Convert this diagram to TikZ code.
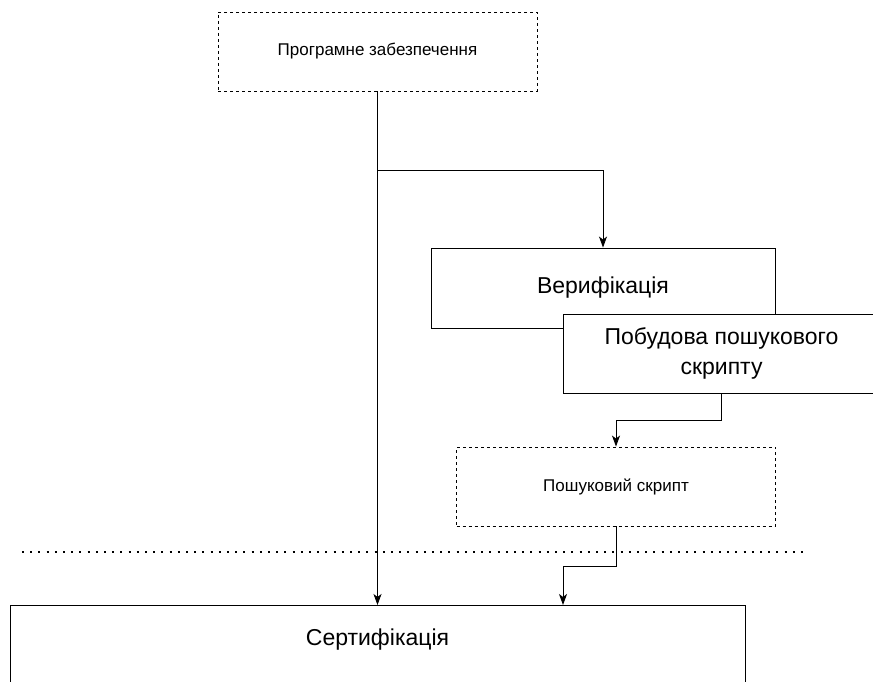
\documentclass[tikz,border=0pt]{standalone}
\usepackage{fontspec}
\setmainfont{Liberation Sans}
\usetikzlibrary{arrows.meta}

\begin{document}
\begin{tikzpicture}[x=1pt,y=-1pt,line width=0.9pt,
    >={Stealth[length=11pt,width=8pt,inset=3pt]},
    dashbox/.style={draw,dash pattern=on 3pt off 3pt,minimum width=319pt,minimum height=79pt,
      font=\fontsize{17}{20}\selectfont},
    solidbox/.style={draw,fill=white,minimum width=317pt,minimum height=79pt,align=center,
      font=\fontsize{23}{30}\selectfont}]
        % Frame
        \useasboundingbox (0,0) rectangle (873,682);
        \clip (0,0) rectangle (873,682);

        % Boxes
        \node[dashbox] (soft) at (377.5,51.5) {Програмне забезпечення};
        \node[solidbox,minimum width=344pt,minimum height=80pt] (verif) at (603,288) {Верифікація};
        \node[solidbox] (build) at (721.5,353.5) {Побудова пошукового\\скрипту};
        \node[dashbox] (script) at (616,486.5) {Пошуковий скрипт};
        \node[draw,minimum width=735pt,minimum height=200pt,anchor=north] (cert) at (377.5,605) {};
        \node[font=\fontsize{23}{30}\selectfont] (certtext) at (377.5,640) {Сертифікація};

        % Dotted border
        \draw[line width=2pt,dash pattern=on 2pt off 6.2pt] (22,552) -- (808,552);

        % Connectors
        \coordinate (split) at (377.5,170);
        \coordinate (certin) at (563,605);
        \draw[->] (soft.south) -- (soft.south |- cert.north);
        \draw[->] (split) -| (verif.north);
        \draw[->] (build.south) -- ++(0,27) -| (script.north);
        \draw[->] (script.south) -- ++(0,40) -| (certin);
\end{tikzpicture}
\end{document}
